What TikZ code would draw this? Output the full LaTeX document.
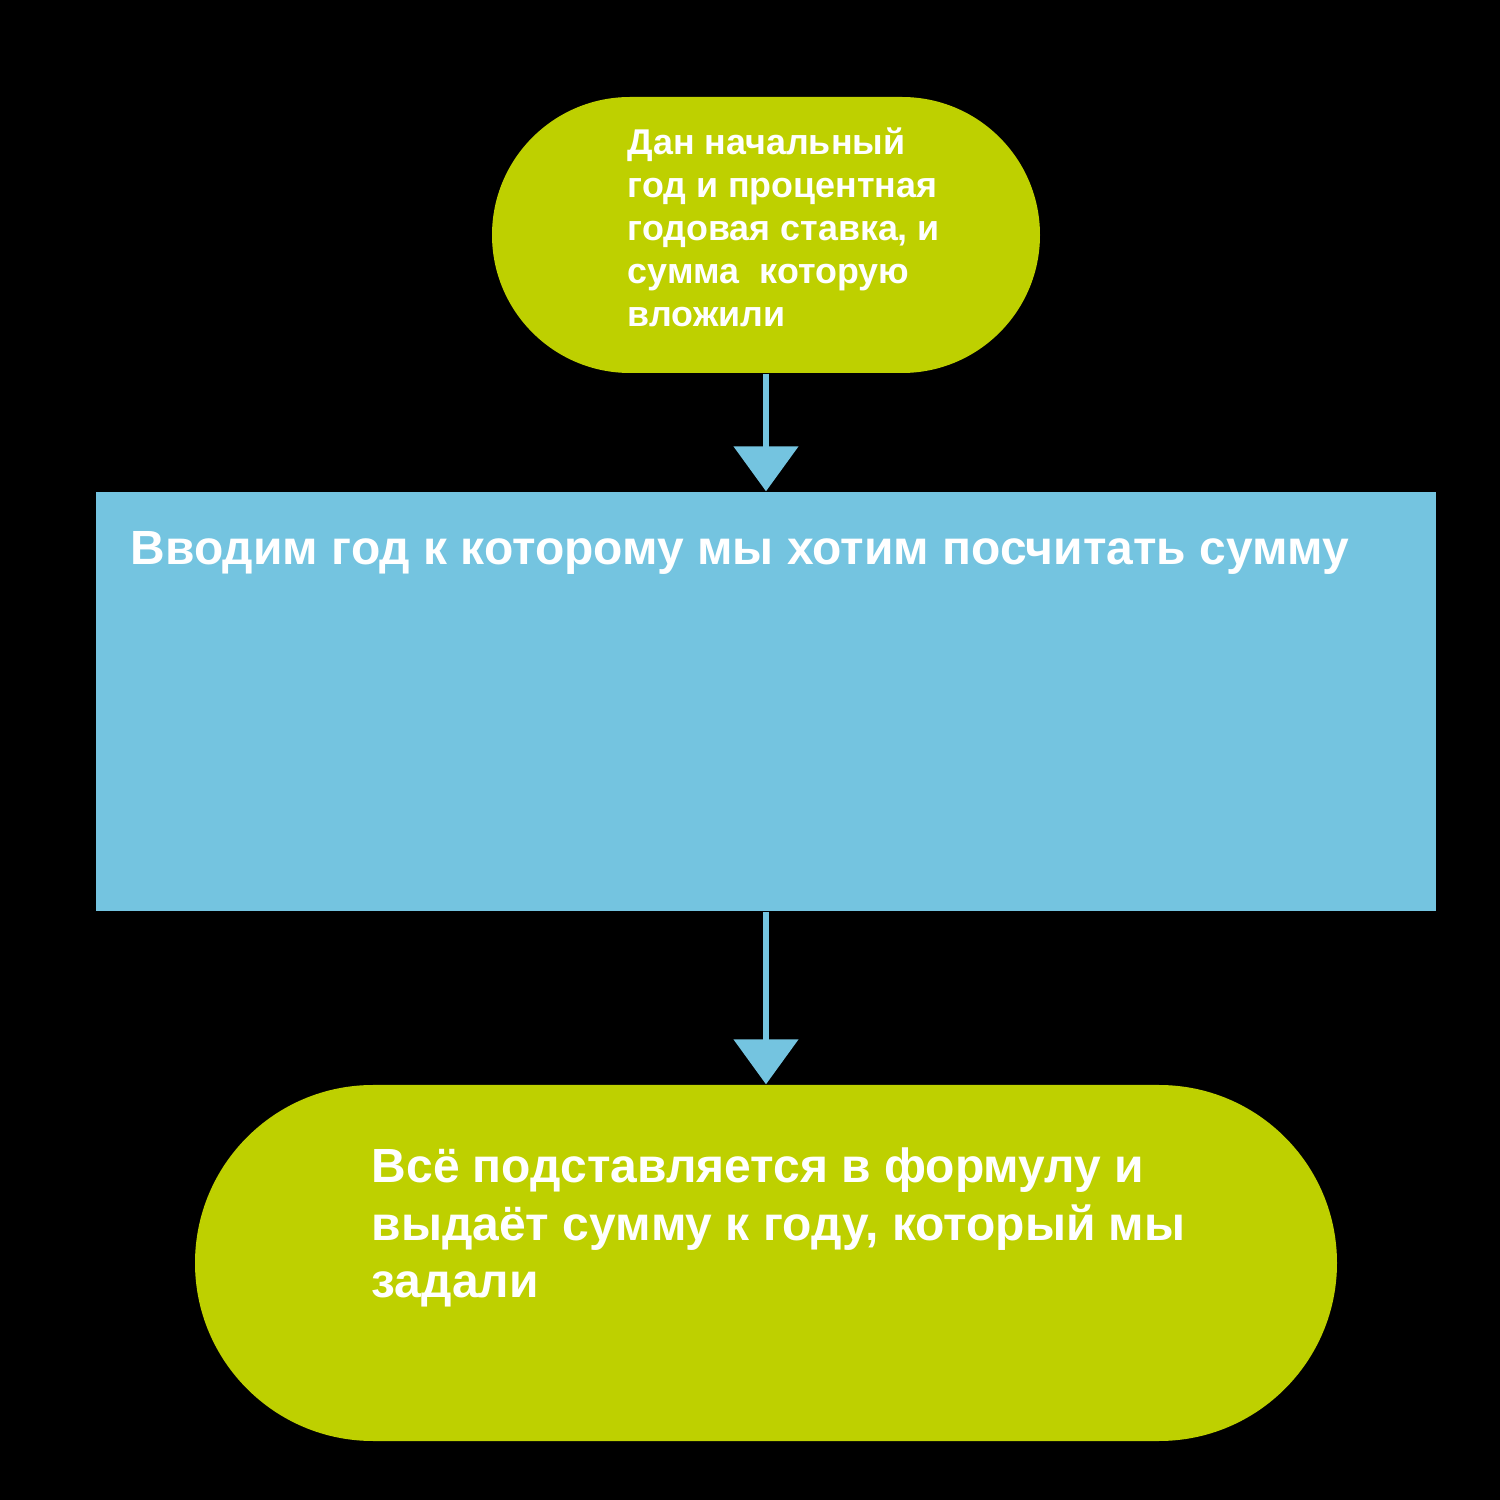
\documentclass[tikz,border=0pt]{standalone}
\usepackage{fontspec}
\setmainfont{Liberation Sans}
\usetikzlibrary{shapes.misc,arrows.meta}
\definecolor{termgreen}{RGB}{190,208,0}
\definecolor{procblue}{RGB}{116,196,224}
\tikzset{
  term/.style={rounded rectangle, fill=termgreen, draw=none, inner sep=0pt},
  proc/.style={rectangle, fill=procblue, draw=none, inner sep=0pt},
  lbl/.style={anchor=base west, text=white, font=\bfseries, align=left, inner sep=0pt},
  flow/.style={draw=procblue, line width=1.45pt, -{Triangle[width=0.64cm,length=0.45cm]}}
}
\begin{document}
\begin{tikzpicture}
\fill[black] (0,0) rectangle (15,15);
\useasboundingbox (0,0) rectangle (15,15);
\node[term, minimum width=5.48cm, minimum height=2.76cm] (start) at (7.66,12.65) {};
\node[proc, minimum width=13.40cm, minimum height=4.19cm] (input) at (7.66,7.985) {};
\node[term, minimum width=11.42cm, minimum height=3.56cm] (finish) at (7.66,2.37) {};
\draw[flow] (start.south) -- (input.north);
\draw[flow] (input.south) -- (finish.north);
% base anchor of a multi-line node is the baseline of its last line
\node[lbl, font=\fontsize{10.2}{12.25}\selectfont\bfseries] (t1) at (6.27,11.73)
  {Дан начальный\\год и процентная\\годовая ставка, и\\сумма\ \ которую\\вложили};
\node[lbl, font=\fontsize{13.65}{16.5}\selectfont\bfseries] (t2) at (1.30,9.35)
  {Вводим год к которому мы хотим посчитать сумму};
\node[lbl, font=\fontsize{13.65}{16.5}\selectfont\bfseries] (t3) at (3.71,2.02)
  {Всё подставляется в формулу и\\выдаёт сумму к году, который мы\\задали};
\end{tikzpicture}
\end{document}
